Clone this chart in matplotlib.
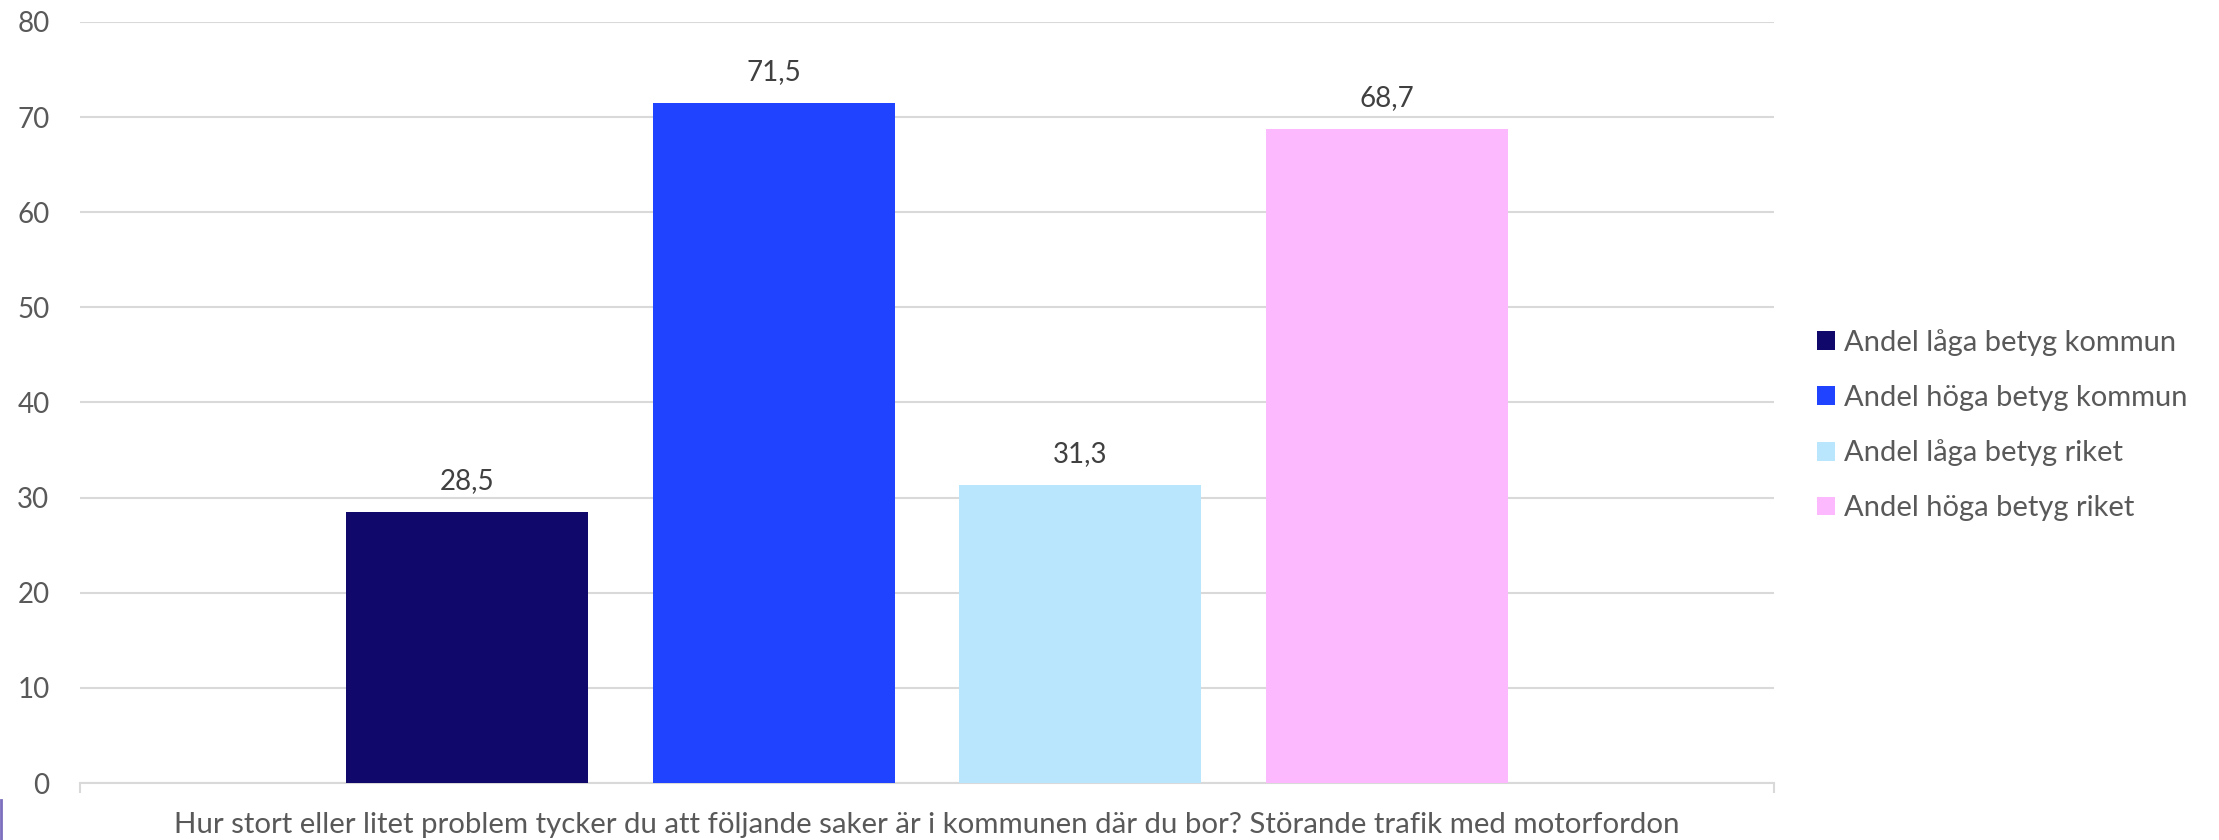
import matplotlib
matplotlib.use("Agg")
import matplotlib.pyplot as plt
from matplotlib.lines import Line2D

# Data
categories = ["Hur stort eller litet problem tycker du att följande saker är i kommunen där du bor? Störande trafik med motorfordon"]
series_names = ["Andel låga betyg kommun", "Andel höga betyg kommun",
                "Andel låga betyg riket", "Andel höga betyg riket"]
series_values = [[28.5], [71.5], [31.3], [68.7]]
series_colors = ["#10086a", "#1f43ff", "#bae6fd", "#fdb9fd"]
y_ticks = [0, 10, 20, 30, 40, 50, 60, 70, 80]

plt.rcParams['font.family'] = ['Lato', 'DejaVu Sans']

fig = plt.figure(figsize=(22.19, 8.4), dpi=100)
ax = fig.add_axes([80 / 2219, 1 - 783 / 840, 1694 / 2219, 761 / 840])

n = len(series_names)
width = 242 / 307
for i, (name, vals, col) in enumerate(zip(series_names, series_values, series_colors)):
    xs = [c + (i - (n - 1) / 2) for c in range(len(categories))]
    bars = ax.bar(xs, vals, width=width, color=col, label=name, zorder=3)
    labels = [f"{v:.1f}".replace(".", ",") for v in vals]
    ax.bar_label(bars, labels=labels, padding=13, fontsize=20, color="#404040")

ax.set_xlim(-2.76, len(categories) - 1 + 2.76)
ax.set_ylim(0, 80)
ax.set_yticks(y_ticks)
ax.tick_params(axis='y', length=0, pad=22, labelsize=20, labelcolor="#595959")
ax.yaxis.grid(True, color="#d9d9d9", linewidth=1.5, zorder=0)

# category axis: label centred under the group, ticks at the edges
ax.set_xticks(range(len(categories)))
ax.set_xticklabels(categories, fontsize=21.2, color="#595959")
ax.tick_params(axis='x', length=0, pad=21)
ax.set_xticks([-2.76, len(categories) - 1 + 2.76], minor=True)
ax.tick_params(axis='x', which='minor', length=7, width=1.5, color="#d9d9d9")

for s in ["top", "right", "left"]:
    ax.spines[s].set_visible(False)
ax.spines["bottom"].set_color("#d9d9d9")
ax.spines["bottom"].set_linewidth(1.5)

leg = ax.legend(loc="center left", bbox_to_anchor=(1817 / 2219, 1 - 425 / 840),
                bbox_transform=fig.transFigure, frameon=False, fontsize=21,
                handlelength=0.62, handleheight=0.62, handletextpad=0.3,
                labelspacing=0.99, borderpad=0, borderaxespad=0)
for t in leg.get_texts():
    t.set_color("#595959")

# small edge mark at bottom left of the image
fig.add_artist(Line2D([0.0005, 0.0005], [0, 40 / 840], transform=fig.transFigure,
                      color="#7b6fc0", linewidth=2))

fig.savefig("out.png", dpi=100)
